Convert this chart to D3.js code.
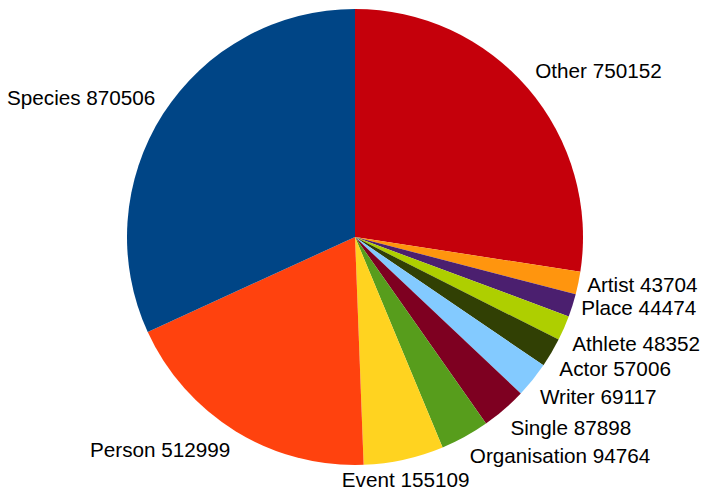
<!DOCTYPE html>
<html><head><meta charset="utf-8">
<script src="https://cdn.jsdelivr.net/npm/d3@7"></script>
<style>body{margin:0;background:#fff}svg{display:block}</style>
</head><body><svg id="c" width="702" height="489"></svg>
<script>
const categories = ["Other","Artist","Place","Athlete","Actor","Writer","Single","Organisation","Event","Person","Species"];
const values = [750152,43704,44474,48352,57006,69117,87898,94764,155109,512999,870506];
const colors = ["#c5000b","#ff950e","#4b1f6f","#aecf00","#314004","#83caff","#7e0021","#579d1c","#ffd320","#ff420e","#004586"];

const W=702,H=489,cx=355,cy=237,R=228;
const svg=d3.select("#c");
const data=categories.map((c,i)=>({name:c,value:values[i],color:colors[i]}));
const pie=d3.pie().value(d=>d.value).sort(null);
const arcs=pie(data);
const arc=d3.arc().innerRadius(0).outerRadius(R);
const g=svg.append("g").attr("transform",`translate(${cx},${cy})`);
g.selectAll("path").data(arcs).join("path").attr("d",arc).attr("fill",d=>d.data.color);

const rl=R+8;
g.selectAll("text").data(arcs).join("text")
 .attr("font-family","'Liberation Sans', Arial, sans-serif")
 .attr("font-size",20.7).attr("fill","#000")
 .each(function(d){
   const a=(d.startAngle+d.endAngle)/2;
   const s=Math.sin(a), c=Math.cos(a);
   const px=rl*s, py=-rl*c;
   const deg=a*180/Math.PI;
   const offV=Math.min(Math.abs(deg%180), 180-Math.abs(deg%180));
   let anchor, by;
   if(offV>67.5){
     anchor = s>0?"start":"end"; by=py+7.5;
   } else {
     anchor = offV<22.5 ? "middle" : (s>0?"start":"end");
     by = c>0 ? py-5 : py+19.5;
   }
   d3.select(this).attr("x",px+(anchor==="start"?1:(anchor==="end"?-1:0))).attr("y",by)
     .attr("text-anchor",anchor).text(d.data.name+" "+d.data.value);
 });
</script></body></html>
